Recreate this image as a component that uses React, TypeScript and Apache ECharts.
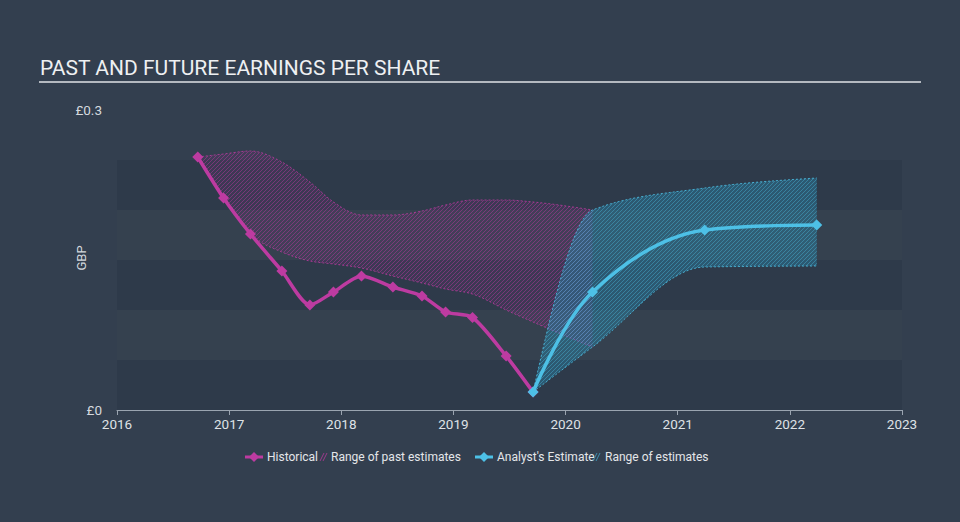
import React, { useEffect, useRef } from 'react';
import * as echarts from 'echarts';

// ---- data ----
const yearTicks = [2016, 2017, 2018, 2019, 2020, 2021, 2022, 2023];

// historical EPS (decimal-year positions)
const histX = [2016.72, 2016.95, 2017.19, 2017.47, 2017.72, 2017.93, 2018.18, 2018.46, 2018.72, 2018.93, 2019.17, 2019.47, 2019.71];
const histEps = [0.253, 0.212, 0.176, 0.139, 0.105, 0.118, 0.134, 0.123, 0.114, 0.098, 0.0925, 0.054, 0.018];

// range of past estimates
const pastRangeX = [2016.72, 2016.95, 2017.19, 2017.47, 2017.72, 2017.93, 2018.18, 2018.46, 2018.72, 2018.93, 2019.17, 2019.47, 2019.71, 2020.24];
const pastRangeLow = [0.253, 0.212, 0.176, 0.158, 0.149, 0.146, 0.142, 0.134, 0.127, 0.121, 0.116, 0.1, 0.088, 0.063];
const pastRangeHigh = [0.253, 0.256, 0.259, 0.248, 0.228, 0.208, 0.195, 0.195, 0.199, 0.205, 0.21, 0.21, 0.208, 0.2];

// analyst estimates
const estX = [2019.71, 2020.24, 2021.24, 2022.24];
const estEps = [0.018, 0.118, 0.18, 0.185];
const estLow = [0.018, 0.063, 0.143, 0.144];
const estHigh = [0.018, 0.2, 0.222, 0.232];

const MAGENTA = '#bd3ba1';
const BLUE = '#4dc0e6';
const BG = '#333f4f';

function makeHatchUrl(rgb: string, lineA: number) {
  const c = document.createElement('canvas');
  c.width = 4;
  c.height = 4;
  const ctx = c.getContext('2d')!;
  ctx.strokeStyle = `rgba(${rgb},${lineA})`;
  ctx.lineWidth = 1;
  ctx.beginPath();
  ctx.moveTo(0, 4);
  ctx.lineTo(4, 0);
  ctx.moveTo(-1, 1);
  ctx.lineTo(1, -1);
  ctx.moveTo(3, 5);
  ctx.lineTo(5, 3);
  ctx.stroke();
  return c.toDataURL();
}

// monotone cubic (x-monotone) bezier segments through pixel points
function monoSegments(p: number[][]) {
  const n = p.length;
  const h: number[] = [];
  const s: number[] = [];
  for (let i = 0; i < n - 1; i++) {
    h[i] = p[i + 1][0] - p[i][0];
    s[i] = h[i] ? (p[i + 1][1] - p[i][1]) / h[i] : 0;
  }
  const m: number[] = new Array(n).fill(0);
  for (let i = 1; i < n - 1; i++) {
    const pp = (s[i - 1] * h[i] + s[i] * h[i - 1]) / (h[i - 1] + h[i]);
    m[i] = (Math.sign(s[i - 1]) + Math.sign(s[i])) * Math.min(Math.abs(s[i - 1]), Math.abs(s[i]), 0.5 * Math.abs(pp)) || 0;
  }
  if (n > 2) {
    m[0] = (3 * s[0] - m[1]) / 2;
    m[n - 1] = (3 * s[n - 2] - m[n - 2]) / 2;
  } else {
    m[0] = s[0];
    m[1] = s[0];
  }
  const segs: number[][][] = [];
  for (let i = 0; i < n - 1; i++) {
    const d = h[i] / 3;
    segs.push([p[i], [p[i][0] + d, p[i][1] + m[i] * d], [p[i + 1][0] - d, p[i + 1][1] - m[i + 1] * d], p[i + 1]]);
  }
  return segs;
}

const f = (v: number) => v.toFixed(2);
const cStr = (a: number[], b: number[], c: number[]) => `C${f(a[0])},${f(a[1])} ${f(b[0])},${f(b[1])} ${f(c[0])},${f(c[1])}`;

function bandRenderer(xs: number[], lows: number[], highs: number[], color: string, baseFill: string, pattern: any) {
  return (params: any, api: any) => {
    if (params.dataIndex !== 0) return null;
    const up = xs.map((x, i) => api.coord([x, highs[i]]));
    const lo = xs.map((x, i) => api.coord([x, lows[i]]));
    const upSeg = monoSegments(up);
    const loSeg = monoSegments(lo);
    let upperD = `M${f(up[0][0])},${f(up[0][1])}`;
    upSeg.forEach((sg) => (upperD += cStr(sg[1], sg[2], sg[3])));
    let lowerD = `M${f(lo[0][0])},${f(lo[0][1])}`;
    loSeg.forEach((sg) => (lowerD += cStr(sg[1], sg[2], sg[3])));
    const last = lo[lo.length - 1];
    let areaD = upperD + `L${f(last[0])},${f(last[1])}`;
    for (let i = loSeg.length - 1; i >= 0; i--) {
      const sg = loSeg[i];
      areaD += cStr(sg[2], sg[1], sg[0]);
    }
    areaD += 'Z';
    const dash = { fill: null, stroke: color, lineWidth: 1, lineDash: [2, 2], opacity: 0.8 };
    return {
      type: 'group',
      children: [
        { type: 'path', shape: { pathData: areaD }, style: { fill: baseFill } },
        { type: 'path', shape: { pathData: areaD }, style: { fill: pattern } },
        { type: 'path', shape: { pathData: upperD }, style: dash },
        { type: 'path', shape: { pathData: lowerD }, style: dash },
      ],
    };
  };
}

const zip = (xs: number[], ys: number[]) => xs.map((x, i) => [x, ys[i]]);

export default function App() {
  const ref = useRef<HTMLDivElement>(null);
  useEffect(() => {
    if (!ref.current) return;
    const chart = echarts.init(ref.current, undefined, { renderer: 'svg' });
    const pastHatch = { image: makeHatchUrl('190,55,165', 0.45), repeat: 'repeat', imageWidth: 4, imageHeight: 4 } as any;
    const estHatch = { image: makeHatchUrl('75,195,232', 0.38), repeat: 'repeat', imageWidth: 4, imageHeight: 4 } as any;
    const font = 'Roboto, sans-serif';
    const legendY = 457;
    const legendText = (x: number, t: string) => ({
      type: 'text',
      x,
      y: legendY,
      style: { text: t, fill: '#e4e6e9', font: `12px ${font}`, verticalAlign: 'middle' },
    });
    const lineIcon = (cx: number, color: string) => [
      { type: 'line', shape: { x1: cx - 9, y1: legendY, x2: cx + 9, y2: legendY }, style: { stroke: color, lineWidth: 3 } },
      {
        type: 'polygon',
        shape: { points: [[cx, legendY - 5], [cx + 5, legendY], [cx, legendY + 5], [cx - 5, legendY]] },
        style: { fill: color },
      },
    ];
    const hatchIcon = (x: number, color: string) => [
      { type: 'line', shape: { x1: x, y1: legendY + 4, x2: x + 4, y2: legendY - 4 }, style: { stroke: color, lineWidth: 1 } },
      { type: 'line', shape: { x1: x + 3, y1: legendY + 4, x2: x + 7, y2: legendY - 4 }, style: { stroke: color, lineWidth: 1 } },
    ];

    chart.setOption({
      animation: false,
      backgroundColor: BG,
      title: {
        text: 'PAST AND FUTURE EARNINGS PER SHARE',
        left: 35,
        top: 52,
        textStyle: { color: '#eef0f2', fontSize: 21, fontWeight: 'normal', fontFamily: font },
      },
      grid: { left: 117, right: 58, top: 110, bottom: 112 },
      xAxis: {
        type: 'value',
        min: yearTicks[0],
        max: yearTicks[yearTicks.length - 1],
        interval: 1,
        axisLine: { show: true, lineStyle: { color: '#9aa4b0', width: 1 } },
        axisTick: { show: true, length: 5, lineStyle: { color: '#9aa4b0' } },
        axisLabel: { color: '#dfe2e6', fontSize: 13.5, fontFamily: font, margin: 7, formatter: (v: number) => String(v) },
        splitLine: { show: false },
      },
      yAxis: {
        type: 'value',
        min: 0,
        max: 0.3,
        interval: 0.05,
        axisLine: { show: false },
        axisTick: { show: false },
        axisLabel: {
          color: '#d5d9de',
          fontSize: 13.5,
          fontFamily: font,
          margin: 15,
          formatter: (v: number) => (v === 0 ? '£0' : Math.abs(v - 0.3) < 1e-6 ? '£0.3' : ''),
        },
        splitLine: { show: false },
        splitArea: { show: true, areaStyle: { color: ['#2e3a4a', '#35414f', '#2e3a4a', '#35414f', '#2e3a4a', BG] } },
      },
      series: [
        {
          name: 'Range of past estimates',
          type: 'custom',
          coordinateSystem: 'cartesian2d',
          data: [[pastRangeX[0], pastRangeHigh[0]]],
          renderItem: bandRenderer(pastRangeX, pastRangeLow, pastRangeHigh, MAGENTA, 'rgba(150,45,140,0.15)', pastHatch),
          silent: true,
          z: 1,
        },
        {
          name: 'Range of estimates',
          type: 'custom',
          coordinateSystem: 'cartesian2d',
          data: [[estX[0], estHigh[0]]],
          renderItem: bandRenderer(estX, estLow, estHigh, BLUE, 'rgba(40,150,190,0.35)', estHatch),
          silent: true,
          z: 2,
        },
        {
          name: 'Historical',
          type: 'line',
          data: zip(histX, histEps),
          smooth: 0.25,
          symbol: 'diamond',
          symbolSize: 11,
          showAllSymbol: true,
          lineStyle: { color: MAGENTA, width: 3.5 },
          itemStyle: { color: MAGENTA },
          z: 5,
        },
        {
          name: "Analyst's Estimate",
          type: 'line',
          data: zip(estX, estEps),
          smooth: 0.35,
          symbol: 'diamond',
          symbolSize: 11,
          lineStyle: { color: BLUE, width: 3.5 },
          itemStyle: { color: BLUE },
          z: 6,
        },
      ],
      graphic: [
        { type: 'rect', shape: { x: 39, y: 81, width: 882, height: 2 }, style: { fill: '#b4b9c0' } },
        {
          type: 'text',
          x: 81,
          y: 258,
          rotation: Math.PI / 2,
          style: { text: 'GBP', fill: '#d5d9de', font: `13px ${font}`, align: 'center', verticalAlign: 'middle' },
        },
        ...lineIcon(254, MAGENTA),
        legendText(267, 'Historical'),
        ...hatchIcon(320, '#9c3a8c'),
        legendText(331, 'Range of past estimates'),
        ...lineIcon(484, BLUE),
        legendText(497, "Analyst's Estimate"),
        ...hatchIcon(593, '#3d8fb0'),
        legendText(605, 'Range of estimates'),
      ],
    });
    return () => chart.dispose();
  }, []);
  return (
    <div
      ref={ref}
      style={{ position: 'fixed', left: 0, top: 0, width: 960, height: 522, background: BG }}
    />
  );
}
